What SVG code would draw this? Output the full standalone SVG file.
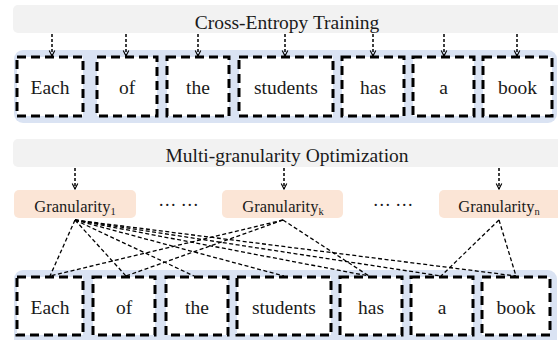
<svg xmlns="http://www.w3.org/2000/svg" width="558" height="340" viewBox="0 0 558 340">
<style>
.bar{fill:#F2F2F2}
.cont{fill:#DAE3F3}
.gran{fill:#FBE5D6}
.word{fill:#fff;stroke:#000;stroke-width:3;stroke-dasharray:9 5}
.t{fill:#1a1a1a;text-anchor:middle}
.title{font-size:19.5px}
.w{font-size:19.5px}
.g{font-size:16.5px}
.sub{font-size:10.5px}
.arr{stroke:#000;stroke-width:1.5;stroke-dasharray:3 2;fill:none}
.link{stroke:#000;stroke-width:1.3;stroke-dasharray:4 2.5;fill:none}
</style>
<defs>
<marker id="chev" viewBox="0 0 10 10" refX="9" refY="5" markerWidth="7" markerHeight="9" orient="auto" markerUnits="userSpaceOnUse">
<path d="M1,1 L9,5 L1,9" fill="none" stroke="#000" stroke-width="1.6" stroke-dasharray="none"/>
</marker>
</defs>
<rect width="558" height="340" fill="#fff"/>
<g font-family="Liberation Serif, Times New Roman, serif">
<g id="title-ce">
<rect class="bar" x="13" y="5" width="552" height="28" rx="5"/>
<text class="t title" x="287" y="29">Cross-Entropy Training</text>
</g>

<g id="top-row">
<rect class="cont" x="14" y="50" width="543" height="73" rx="9"/>
<g id="t-each"><rect class="word" x="17" y="57" width="66" height="59"/><text class="t w" x="50" y="94">Each</text></g>
<g id="t-of"><rect class="word" x="97" y="57" width="60" height="59"/><text class="t w" x="127" y="94">of</text></g>
<g id="t-the"><rect class="word" x="167" y="57" width="62" height="59"/><text class="t w" x="198" y="94">the</text></g>
<g id="t-students"><rect class="word" x="239" y="57" width="94" height="59"/><text class="t w" x="286" y="94">students</text></g>
<g id="t-has"><rect class="word" x="342" y="57" width="62" height="59"/><text class="t w" x="373" y="94">has</text></g>
<g id="t-a"><rect class="word" x="413" y="57" width="61" height="59"/><text class="t w" x="443.5" y="94">a</text></g>
<g id="t-book"><rect class="word" x="483" y="57" width="69" height="59"/><text class="t w" x="517.5" y="94">book</text></g>
</g>

<g id="title-mg">
<rect class="bar" x="13" y="139" width="552" height="28" rx="5"/>
<text class="t title" x="287" y="162">Multi-granularity Optimization</text>
</g>

<g id="g1">
<rect class="gran" x="14" y="190" width="122" height="28" rx="5"/>
<text class="t g" x="75" y="212">Granularity<tspan class="sub" dy="3">1</tspan></text>
</g>
<text class="t" x="178.5" y="206" font-size="18">… …</text>
<g id="gk">
<rect class="gran" x="222" y="190" width="121" height="28" rx="5"/>
<text class="t g" x="283" y="212">Granularity<tspan class="sub" dy="3">k</tspan></text>
</g>
<text class="t" x="393" y="206" font-size="18">… …</text>
<g id="gn">
<rect class="gran" x="439" y="190" width="126" height="28" rx="5"/>
<text class="t g" x="499" y="212">Granularity<tspan class="sub" dy="3">n</tspan></text>
</g>

<g id="bottom-row">
<rect class="cont" x="14" y="270" width="543" height="80" rx="9"/>
<g id="b-each"><rect class="word" x="17" y="277" width="66" height="58"/><text class="t w" x="50" y="314">Each</text></g>
<g id="b-of"><rect class="word" x="93" y="277" width="62" height="58"/><text class="t w" x="124" y="314">of</text></g>
<g id="b-the"><rect class="word" x="166" y="277" width="62" height="58"/><text class="t w" x="197" y="314">the</text></g>
<g id="b-students"><rect class="word" x="237" y="277" width="94" height="58"/><text class="t w" x="284" y="314">students</text></g>
<g id="b-has"><rect class="word" x="340" y="277" width="62" height="58"/><text class="t w" x="371" y="314">has</text></g>
<g id="b-a"><rect class="word" x="411" y="277" width="62" height="58"/><text class="t w" x="442" y="314">a</text></g>
<g id="b-book"><rect class="word" x="482" y="277" width="68" height="58"/><text class="t w" x="516" y="314">book</text></g>
</g>
</g>
<g id="connectors">
<line class="arr" x1="52" y1="34" x2="52" y2="56" marker-end="url(#chev)"/>
<line class="arr" x1="126" y1="34" x2="126" y2="56" marker-end="url(#chev)"/>
<line class="arr" x1="198" y1="34" x2="198" y2="56" marker-end="url(#chev)"/>
<line class="arr" x1="285" y1="34" x2="285" y2="56" marker-end="url(#chev)"/>
<line class="arr" x1="373" y1="34" x2="373" y2="56" marker-end="url(#chev)"/>
<line class="arr" x1="444" y1="34" x2="444" y2="56" marker-end="url(#chev)"/>
<line class="arr" x1="517" y1="34" x2="517" y2="56" marker-end="url(#chev)"/>
<line class="arr" x1="75" y1="168" x2="75" y2="189" marker-end="url(#chev)"/>
<line class="arr" x1="284" y1="168" x2="284" y2="189" marker-end="url(#chev)"/>
<line class="arr" x1="499" y1="168" x2="499" y2="189" marker-end="url(#chev)"/>

<line class="link" x1="75" y1="220" x2="50" y2="276"/>
<line class="link" x1="75" y1="220" x2="126" y2="276"/>
<line class="link" x1="75" y1="220" x2="194" y2="276"/>
<line class="link" x1="75" y1="220" x2="284" y2="276"/>
<line class="link" x1="75" y1="220" x2="369" y2="276"/>
<line class="link" x1="75" y1="220" x2="441" y2="276"/>
<line class="link" x1="75" y1="220" x2="516" y2="276"/>
<line class="link" x1="283" y1="220" x2="50" y2="276"/>
<line class="link" x1="283" y1="220" x2="126" y2="276"/>
<line class="link" x1="283" y1="220" x2="369" y2="276"/>
<line class="link" x1="499" y1="220" x2="441" y2="276"/>
<line class="link" x1="499" y1="220" x2="516" y2="276"/>
</g>
</svg>
